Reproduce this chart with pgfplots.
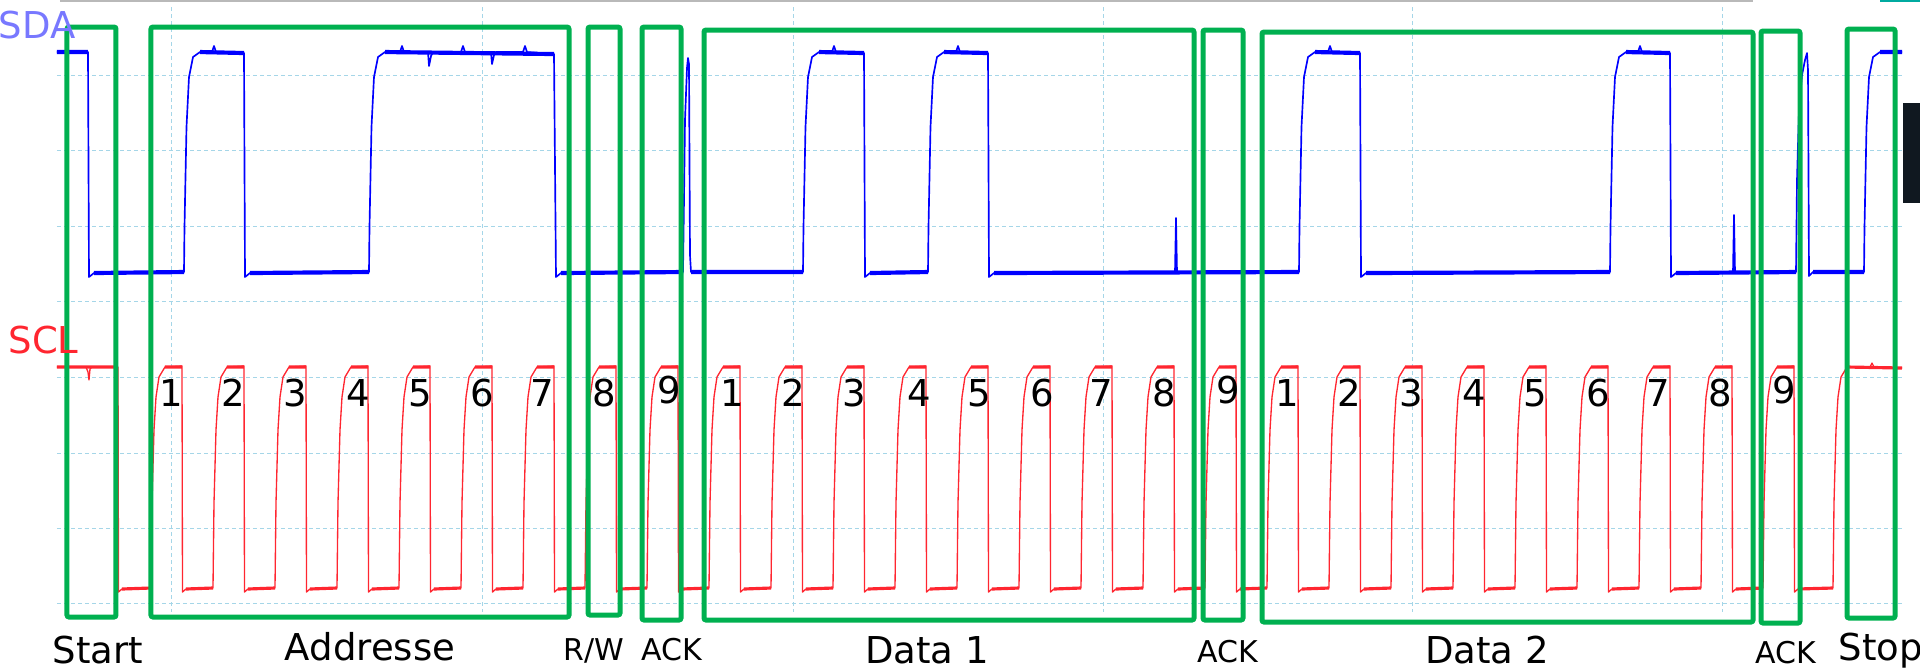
\documentclass[border=0pt]{standalone}
\usepackage{pgfplots}
\pgfplotsset{compat=1.18}
\usepackage{fontspec}
\setmainfont{DejaVu Sans}
\definecolor{sdablue}{RGB}{0,0,255}
\definecolor{sdalabel}{RGB}{120,120,255}
\definecolor{sclred}{RGB}{255,38,48}
\definecolor{boxgreen}{RGB}{0,176,80}
\definecolor{gridblue}{RGB}{165,214,232}
\definecolor{darkpanel}{RGB}{16,24,32}
\definecolor{tealtop}{RGB}{0,170,160}
\begin{document}
\begin{tikzpicture}
\begin{axis}[at={(0,0)},anchor=south west,scale only axis,width=576pt,height=201.3pt,
  xmin=0,xmax=1920,ymin=0,ymax=671,y dir=reverse,hide axis,clip=false,
  unbounded coords=jump]
% screen decorations
\draw[gray!55,line width=0.6pt] (axis cs:60,1) -- (axis cs:1753,1);
\draw[tealtop,line width=0.6pt] (axis cs:1880,1) -- (axis cs:1920,1);
\fill[darkpanel] (axis cs:1903,103) rectangle (axis cs:1920,203);
% grid
\tikzset{gl/.style={gridblue,line width=0.3pt,dash pattern=on 1.2pt off 0.9pt}}
\draw[gl] (axis cs:57,75) -- (axis cs:1902,75);
\draw[gl] (axis cs:57,150) -- (axis cs:1902,150);
\draw[gl] (axis cs:57,226) -- (axis cs:1902,226);
\draw[gl] (axis cs:57,301) -- (axis cs:1902,301);
\draw[gl] (axis cs:57,377) -- (axis cs:1902,377);
\draw[gl] (axis cs:57,453) -- (axis cs:1902,453);
\draw[gl] (axis cs:57,528) -- (axis cs:1902,528);
\draw[gl] (axis cs:57,603) -- (axis cs:1902,603);
\draw[gl] (axis cs:172,7) -- (axis cs:172,612);
\draw[gl] (axis cs:482,7) -- (axis cs:482,612);
\draw[gl] (axis cs:793,7) -- (axis cs:793,612);
\draw[gl] (axis cs:1103,7) -- (axis cs:1103,612);
\draw[gl] (axis cs:1412,7) -- (axis cs:1412,612);
\draw[gl] (axis cs:1722,7) -- (axis cs:1722,612);
% SCL
\addplot[sclred,mark=none,line width=0.4pt,line join=round] coordinates {
(57,367)(86,367)(88,372)(89,380)(90,369)(92,367)(118,367)(118.5,592)(122,589)
(151,588)(152,503)(154,430)(156,397)(159,377)(165,367)(182,366)(182.5,592)(186,589)
(213,588)(214,503)(216,430)(218,397)(221,377)(227,367)(244,366)(244.5,592)(248,589)
(275,588)(276,503)(278,430)(280,397)(283,377)(289,367)(306,366)(306.5,592)(310,589)
(337,588)(338,503)(340,430)(342,397)(345,377)(351,367)(368,366)(368.5,592)(372,589)
(399,588)(400,503)(402,430)(404,397)(407,377)(413,367)(430,366)(430.5,592)(434,589)
(461,588)(462,503)(464,430)(466,397)(469,377)(475,367)(492,366)(492.5,592)(496,589)
(523,588)(524,503)(526,430)(528,397)(531,377)(537,367)(554,366)(554.5,592)(558,589)
(585,588)(586,503)(588,430)(590,397)(593,377)(599,367)(616,366)(616.5,592)(620,589)
(647,588)(648,503)(650,430)(652,397)(655,377)(661,367)(678,366)(678.5,592)(682,589)
(709,588)(710,503)(712,430)(714,397)(717,377)(723,367)(740,366)(740.5,592)(744,589)
(771,588)(772,503)(774,430)(776,397)(779,377)(785,367)(802,366)(802.5,592)(806,589)
(833,588)(834,503)(836,430)(838,397)(841,377)(847,367)(864,366)(864.5,592)(868,589)
(895,588)(896,503)(898,430)(900,397)(903,377)(909,367)(926,366)(926.5,592)(930,589)
(957,588)(958,503)(960,430)(962,397)(965,377)(971,367)(988,366)(988.5,592)(992,589)
(1019,588)(1020,503)(1022,430)(1024,397)(1027,377)(1033,367)(1050,366)(1050.5,592)(1054,589)
(1081,588)(1082,503)(1084,430)(1086,397)(1089,377)(1095,367)(1112,366)(1112.5,592)(1116,589)
(1143,588)(1144,503)(1146,430)(1148,397)(1151,377)(1157,367)(1174,366)(1174.5,592)(1178,589)
(1205,588)(1206,503)(1208,430)(1210,397)(1213,377)(1219,367)(1236,366)(1236.5,592)(1240,589)
(1267,588)(1268,503)(1270,430)(1272,397)(1275,377)(1281,367)(1298,366)(1298.5,592)(1302,589)
(1329,588)(1330,503)(1332,430)(1334,397)(1337,377)(1343,367)(1360,366)(1360.5,592)(1364,589)
(1391,588)(1392,503)(1394,430)(1396,397)(1399,377)(1405,367)(1422,366)(1422.5,592)(1426,589)
(1453,588)(1454,503)(1456,430)(1458,397)(1461,377)(1467,367)(1484,366)(1484.5,592)(1488,589)
(1515,588)(1516,503)(1518,430)(1520,397)(1523,377)(1529,367)(1546,366)(1546.5,592)(1550,589)
(1577,588)(1578,503)(1580,430)(1582,397)(1585,377)(1591,367)(1608,366)(1608.5,592)(1612,589)
(1639,588)(1640,503)(1642,430)(1644,397)(1647,377)(1653,367)(1670,366)(1670.5,592)(1674,589)
(1701,588)(1702,503)(1704,430)(1706,397)(1709,377)(1715,367)(1732,366)(1732.5,592)(1736,589)
(1763,588)(1764,503)(1766,430)(1768,397)(1771,377)(1777,367)(1794,366)(1794.5,592)(1798,589)
(1833,588)(1834,503)(1836,430)(1838,397)(1841,377)(1847,367)(1870,367)(1872,363)(1874,367)(1902,368)
};
% SCL flat levels (thicker, noisy band)
\addplot[sclred,mark=none,line width=0.95pt] coordinates {
(57,367)(118,367)(119,nan)(122,589)(151,588)(152,nan)
(165,367)(182,367)(183,nan)(186,589)(213,588)(214,nan)
(227,367)(244,367)(245,nan)(248,589)(275,588)(276,nan)
(289,367)(306,367)(307,nan)(310,589)(337,588)(338,nan)
(351,367)(368,367)(369,nan)(372,589)(399,588)(400,nan)
(413,367)(430,367)(431,nan)(434,589)(461,588)(462,nan)
(475,367)(492,367)(493,nan)(496,589)(523,588)(524,nan)
(537,367)(554,367)(555,nan)(558,589)(585,588)(586,nan)
(599,367)(616,367)(617,nan)(620,589)(647,588)(648,nan)
(661,367)(678,367)(679,nan)(682,589)(709,588)(710,nan)
(723,367)(740,367)(741,nan)(744,589)(771,588)(772,nan)
(785,367)(802,367)(803,nan)(806,589)(833,588)(834,nan)
(847,367)(864,367)(865,nan)(868,589)(895,588)(896,nan)
(909,367)(926,367)(927,nan)(930,589)(957,588)(958,nan)
(971,367)(988,367)(989,nan)(992,589)(1019,588)(1020,nan)
(1033,367)(1050,367)(1051,nan)(1054,589)(1081,588)(1082,nan)
(1095,367)(1112,367)(1113,nan)(1116,589)(1143,588)(1144,nan)
(1157,367)(1174,367)(1175,nan)(1178,589)(1205,588)(1206,nan)
(1219,367)(1236,367)(1237,nan)(1240,589)(1267,588)(1268,nan)
(1281,367)(1298,367)(1299,nan)(1302,589)(1329,588)(1330,nan)
(1343,367)(1360,367)(1361,nan)(1364,589)(1391,588)(1392,nan)
(1405,367)(1422,367)(1423,nan)(1426,589)(1453,588)(1454,nan)
(1467,367)(1484,367)(1485,nan)(1488,589)(1515,588)(1516,nan)
(1529,367)(1546,367)(1547,nan)(1550,589)(1577,588)(1578,nan)
(1591,367)(1608,367)(1609,nan)(1612,589)(1639,588)(1640,nan)
(1653,367)(1670,367)(1671,nan)(1674,589)(1701,588)(1702,nan)
(1715,367)(1732,367)(1733,nan)(1736,589)(1763,588)(1764,nan)
(1777,367)(1794,367)(1795,nan)(1798,589)(1833,588)(1834,nan)
(1847,367)(1902,368)
};
% SDA
\addplot[sdablue,mark=none,line width=0.5pt,line join=round] coordinates {
(57,52)(88,52)(89,277)(94,273)
(184,272)(184.5,227)(186.5,127)(189,77)(193,57)(200,52)(212,52)(214,46)(216,52)(244,53)(245,277)(250,273)
(369,272)(369.5,227)(371.5,127)(374,77)(378,57)(385,52)(400,52)(402,46)(404,52)(428,52)(429,66)(431,56)(433,52)
(461,52)(463,46)(465,52)(491,52)(492,64)(494,55)(496,52)(523,52)(525,46)(527,52)(554,54)(556,277)(561,273)
(683,272)(684,200)(685,120)(687,68)(688,58)(689,64)(690,255)(691,272)
(803,272)(803.5,227)(805.5,127)(808,77)(812,57)(819,52)(832,52)(834,46)(836,52)(864,53)(865,277)(870,273)
(928,272)(928.5,227)(930.5,127)(933,77)(937,57)(944,52)(956,52)(958,46)(960,52)(988,53)(989,277)(994,273)
(1175,272)(1176,218)(1177,272)
(1299,272)(1299.5,227)(1301.5,127)(1304,77)(1308,57)(1315,52)(1328,52)(1330,46)(1332,52)(1360,53)(1361,277)(1366,273)
(1610,272)(1610.5,227)(1612.5,127)(1615,77)(1619,57)(1626,52)(1638,52)(1640,46)(1642,52)(1670,53)(1671,277)(1676,273)
(1733,272)(1734,215)(1735,272)
(1796,272)(1797,180)(1799,110)(1802,75)(1805,60)(1807,53)(1808,70)(1809,276)(1813,272)
(1864,272)(1864.5,227)(1866.5,127)(1869,77)(1873,57)(1880,52)(1902,52)
};
% SDA flat levels (thicker, noisy band)
\addplot[sdablue,mark=none,line width=1.25pt] coordinates {
(57,52)(88,52)(89,nan)(94,273)(184,272)(185,nan)
(200,52)(244,53)(245,nan)(250,273)(369,272)(370,nan)
(385,52)(554,54)(555,nan)(561,273)(683,272)(684,nan)
(691,272)(803,272)(804,nan)(819,52)(864,53)(865,nan)
(870,273)(928,272)(929,nan)(944,52)(988,53)(989,nan)
(994,273)(1299,272)(1300,nan)(1315,52)(1360,53)(1361,nan)
(1366,273)(1610,272)(1611,nan)(1626,52)(1670,53)(1671,nan)
(1676,273)(1796,272)(1797,nan)(1813,272)(1864,272)(1865,nan)
(1880,52)(1902,52)
};
% green boxes
\tikzset{gb/.style={boxgreen,line width=1.5pt,rounded corners=0.6pt}}
\draw[gb] (axis cs:67,27) rectangle (axis cs:116,617);
\draw[gb] (axis cs:151,27) rectangle (axis cs:569,617);
\draw[gb] (axis cs:588,27) rectangle (axis cs:620,615);
\draw[gb] (axis cs:642,27) rectangle (axis cs:681,620);
\draw[gb] (axis cs:704,30) rectangle (axis cs:1194,620);
\draw[gb] (axis cs:1203,30) rectangle (axis cs:1243,620);
\draw[gb] (axis cs:1262,32) rectangle (axis cs:1753,622);
\draw[gb] (axis cs:1761,31) rectangle (axis cs:1800,623);
\draw[gb] (axis cs:1847,29) rectangle (axis cs:1895,618);
% labels
\tikzset{big/.style={inner sep=0pt,font=\fontsize{11.1pt}{13pt}\selectfont},
         small/.style={inner sep=0pt,font=\fontsize{9pt}{11pt}\selectfont}}
\node[big,anchor=base west,text=sdalabel] at (axis cs:-2,38) {SDA};
\node[big,anchor=base west,text=sclred] at (axis cs:8,353) {SCL};
% bit numbers
\node[big,anchor=base] at (axis cs:171,406) {1};
\node[big,anchor=base] at (axis cs:233,406) {2};
\node[big,anchor=base] at (axis cs:295,406) {3};
\node[big,anchor=base] at (axis cs:358,406) {4};
\node[big,anchor=base] at (axis cs:420,406) {5};
\node[big,anchor=base] at (axis cs:482,406) {6};
\node[big,anchor=base] at (axis cs:542,406) {7};
\node[big,anchor=base] at (axis cs:604,406) {8};
\node[big,anchor=base] at (axis cs:669,403) {9};
\node[big,anchor=base] at (axis cs:732,406) {1};
\node[big,anchor=base] at (axis cs:793,406) {2};
\node[big,anchor=base] at (axis cs:854,406) {3};
\node[big,anchor=base] at (axis cs:919,406) {4};
\node[big,anchor=base] at (axis cs:979,406) {5};
\node[big,anchor=base] at (axis cs:1042,406) {6};
\node[big,anchor=base] at (axis cs:1101,406) {7};
\node[big,anchor=base] at (axis cs:1164,406) {8};
\node[big,anchor=base] at (axis cs:1228,403) {9};
\node[big,anchor=base] at (axis cs:1287,406) {1};
\node[big,anchor=base] at (axis cs:1349,406) {2};
\node[big,anchor=base] at (axis cs:1411,406) {3};
\node[big,anchor=base] at (axis cs:1474,406) {4};
\node[big,anchor=base] at (axis cs:1535,406) {5};
\node[big,anchor=base] at (axis cs:1598,406) {6};
\node[big,anchor=base] at (axis cs:1658,406) {7};
\node[big,anchor=base] at (axis cs:1720,406) {8};
\node[big,anchor=base] at (axis cs:1784,403) {9};
% section names
\node[big,anchor=base] at (axis cs:98,663) {Start};
\node[big,anchor=base] at (axis cs:370,660) {Addresse};
\node[small,anchor=base] at (axis cs:594,660) {R/W};
\node[small,anchor=base] at (axis cs:672,660) {ACK};
\node[big,anchor=base] at (axis cs:927,663) {Data 1};
\node[small,anchor=base] at (axis cs:1228,662) {ACK};
\node[big,anchor=base] at (axis cs:1487,663) {Data 2};
\node[small,anchor=base] at (axis cs:1786,663) {ACK};
\node[big,anchor=base west] at (axis cs:1838,660) {Stop};
\end{axis}
\pgfresetboundingbox
\useasboundingbox (0,0) rectangle (576pt,201.3pt);
\end{tikzpicture}
\end{document}
